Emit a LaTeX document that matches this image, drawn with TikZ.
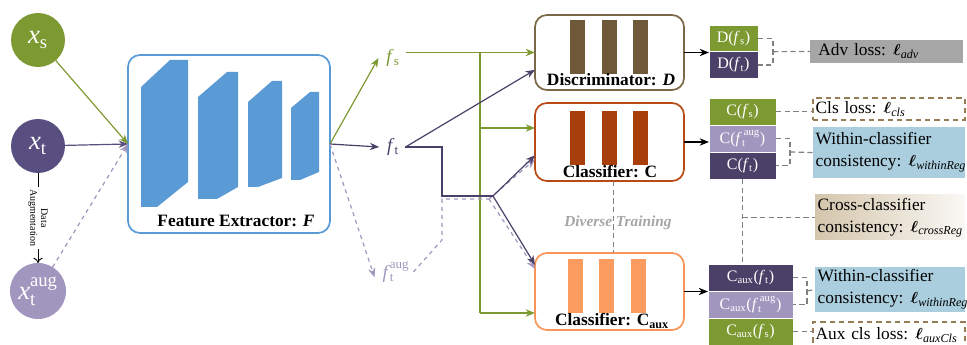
\documentclass[tikz,border=0pt]{standalone}
\usepackage{amsmath}
\usepackage{fontspec}
\setmainfont{Liberation Serif}
\usetikzlibrary{arrows.meta,calc}
\definecolor{cgreen}{RGB}{125,153,50}
\definecolor{cdpurp}{RGB}{88,78,128}
\definecolor{cdpurpb}{RGB}{74,64,104}
\definecolor{clpurp}{RGB}{160,150,190}
\definecolor{cblue}{RGB}{91,155,213}
\definecolor{cbrown}{RGB}{122,104,70}
\definecolor{cbarA}{RGB}{110,90,58}
\definecolor{crust}{RGB}{184,74,20}
\definecolor{cbarB}{RGB}{168,62,10}
\definecolor{corange}{RGB}{248,150,90}
\definecolor{cbarC}{RGB}{250,155,95}
\definecolor{cgraybox}{RGB}{166,166,166}
\definecolor{clblue}{RGB}{170,206,222}
\definecolor{ctan}{RGB}{212,198,172}
\definecolor{cdash}{RGB}{150,125,85}
\definecolor{cdline}{RGB}{128,128,128}
\definecolor{cdtext}{RGB}{165,165,165}
\tikzset{
  arr/.style={-{Stealth[length=7pt,width=5.5pt]}, line width=0.9pt},
  plain/.style={line width=0.9pt},
  circ/.style={circle, minimum size=40.5pt, text=white, font=\fontsize{20}{22}\selectfont},
  mbox/.style={draw, line width=1.3pt, rounded corners=9pt, minimum width=111.75pt},
  blab/.style={font=\fontsize{13}{15}\selectfont\bfseries},
  flab/.style={font=\fontsize{14}{16}\selectfont},
  obox/.style={anchor=north west, text=white, font=\fontsize{12}{14}\selectfont, draw=white, line width=0.4pt},
  dbox/.style={obox, minimum width=36.75pt, minimum height=20pt},
  cbox/.style={obox, minimum width=50.25pt, minimum height=20.25pt},
  abox/.style={obox, minimum width=63.75pt, minimum height=20.25pt},
  dline/.style={draw=cdline, line width=0.9pt, dash pattern=on 4pt off 2.5pt},
  loss/.style={anchor=north west, font=\fontsize{13}{16.5}\selectfont, align=left, inner xsep=2pt, inner ysep=0pt},
  dloss/.style={loss, draw=cdash, line width=1.4pt, dash pattern=on 4pt off 3pt, fill=white}
}
\newcommand{\lossl}[1]{\hspace{-1pt}$\boldsymbol{\ell}_{\textit{#1}}$}
\begin{document}
\begin{tikzpicture}[x=0.75pt,y=-0.75pt, every node/.style={inner sep=0pt, outer sep=0pt}]
\useasboundingbox (0,0) rectangle (967,345);

% inputs
\node[circ, fill=cgreen] (xs) at (38,40) {\textit{x}$_{\text{s}}$};
\node[circ, fill=cdpurp] (xt) at (38,146) {\textit{x}$_{\text{t}}$};
\node[circ, fill=clpurp, minimum size=42pt] (xa) at (38,291) {\textit{x}$_{\text{t}}^{\text{aug}}$};
\draw[-{To[length=4pt,width=7pt]}, line width=0.7pt] (xt) -- (xa)
  node[midway, fill=white, rotate=-90, font=\fontsize{7.5}{8}\selectfont, align=center, inner sep=1.5pt] (da) {Data\\Augmentation};

% feature extractor
\node[draw=cblue, line width=1.3pt, rounded corners=9pt, minimum width=151.5pt, minimum height=133.5pt] (F) at (229,144) {};
\fill[cblue] (141,87) -- (170,60) -- (188,60) -- (188,182) -- (157,207) -- (141,207) -- cycle;
\fill[cblue] (198,97) -- (227,72) -- (238,72) -- (238,187) -- (217,199) -- (198,199) -- cycle;
\fill[cblue] (248,102) -- (272,81) -- (282,81) -- (282,178) -- (258,187) -- (248,187) -- cycle;
\fill[cblue] (291,108) -- (310,92) -- (319,92) -- (319,172) -- (300,180) -- (291,180) -- cycle;
\node[blab] (Flab) at (236,221) {Feature Extractor: \textit{F}};

\draw[arr, cgreen] (xs) -- (F.west);
\draw[arr, cdpurp] (xt) -- (F.west);
\draw[arr, clpurp, dashed] (xa) -- (F.west);

% features
\node[flab, text=cgreen] (fs) at (393,58) {\textit{f}$_{\text{s}}$};
\node[flab, text=cdpurpb] (ft) at (393,147) {\textit{f}$_{\text{t}}$};
\node[flab, text=clpurp] (fa) at (396,272) {\textit{f}$_{\text{t}}^{\text{aug}}$};
\draw[arr, cgreen] (F.east) -- ([xshift=-6pt]fs.west);
\draw[arr, cdpurpb] (F.east) -- ([xshift=-6pt]ft.west);
\draw[arr, clpurp, dashed] (F.east) -- ([xshift=-6pt,yshift=-4pt]fa.west);

% heads
\node[mbox, draw=cbrown, minimum height=56.25pt] (D) at (609.5,52.5) {};
\node[mbox, draw=crust, minimum height=58.5pt] (C) at (609.5,142) {};
\node[mbox, draw=corange, minimum height=57.75pt] (Ca) at (609.5,291.5) {};
\foreach \x in {570,602,633} {\fill[cbarA] (\x,20) rectangle (\x+15,74);}
\foreach \x in {570,602,633} {\fill[cbarB] (\x,111) rectangle (\x+15,165);}
\foreach \x in {568,599,631} {\fill[cbarC] (\x,259) rectangle (\x+15,313);}
\node[blab] (Dlab) at (611,80) {Discriminator: \textit{D}};
\node[blab] (Clab) at (610,172) {Classifier: C};
\node[blab] (Calab) at (612,321) {Classifier: C$_{\text{aux}}$};

% green routing
\coordinate (gtop) at (480,52.5);
\coordinate (gmid) at (480,128);
\coordinate (gbot) at (480,313);
\draw[arr, cgreen] ([xshift=5pt]fs.east |- D.west) -- (D.west);
\draw[plain, cgreen] (gtop) -- (gbot);
\draw[arr, cgreen] (gmid) -- (C.west |- gmid);
\draw[arr, cgreen] (gbot) -- (Ca.west |- gbot);

% augmented target routing (dashed)
\coordinate (k1) at (442,240);
\coordinate (k2) at (442,199);
\coordinate (k3) at (489,199);
\draw[plain, clpurp, dashed] ([xshift=3pt]fa.east) -- (k1) -- (k2) -- (k3);
\draw[arr, clpurp, dashed] (k3) -- ([yshift=-13pt]C.west);
\draw[arr, clpurp, dashed] (k3) -- ([yshift=17pt]Ca.west);

% target routing
\coordinate (j2) at (442,196);
\coordinate (j3) at (493,196);
\draw[arr, cdpurpb] ([xshift=5pt]ft.east) -- ([yshift=-13pt]D.west);
\draw[plain, cdpurpb] ([xshift=5pt]ft.east) -| (j2) -- (j3);
\draw[arr, cdpurpb] (j3) -- ([yshift=-10pt]C.west);
\draw[arr, cdpurpb] (j3) -- ([yshift=20pt]Ca.west);

% diverse training
\draw[dline] ([xshift=3pt]C.south) -- ([xshift=3pt]Ca.north);
\node[font=\fontsize{11.5}{13}\selectfont\bfseries\itshape, text=cdtext] (dt) at (618,223) {Diverse Training};

% outputs
\node[dbox, fill=cgreen] (Dfs) at (709,25) {D(\textit{f}$_{\text{s}}$)};
\node[dbox, fill=cdpurpb] (Dft) at (Dfs.south west) {D(\textit{f}$_{\text{t}}$)};
\node[cbox, fill=cgreen] (Cfs) at (709,98) {C(\textit{f}$_{\text{s}}$)};
\node[cbox, fill=clpurp] (Cfa) at (Cfs.south west) {C(\textit{f}$_{\text{t}}^{\,\text{aug}}$)};
\node[cbox, fill=cdpurpb] (Cft) at (Cfa.south west) {C(\textit{f}$_{\text{t}}$)};
\node[abox, fill=cdpurpb] (Aft) at (708,264) {C$_{\text{aux}}$(\textit{f}$_{\text{t}}$)};
\node[abox, fill=clpurp] (Afa) at (Aft.south west) {C$_{\text{aux}}$(\textit{f}$_{\text{t}}^{\,\text{aug}}$)};
\node[abox, fill=cgreen] (Afs) at (Afa.south west) {C$_{\text{aux}}$(\textit{f}$_{\text{s}}$)};

\draw[arr, black] (D.east) -- (D.east -| Dfs.west);
\draw[arr, black] (C.east) -- (C.east -| Cfs.west);
\draw[arr, black] (Ca.east) -- (Ca.east -| Aft.west);

% losses
\node[loss, fill=cgraybox, text width=110.75pt, minimum height=17.25pt, inner xsep=2pt] (adv) at (810,40) {\mbox{~Adv loss: \lossl{adv}}};
\node[dloss, text width=110pt, minimum height=16.5pt] (cls) at (813,98) {\mbox{Cls loss: \lossl{cls}}};
\node[loss, fill=clblue, text width=110pt, minimum height=38.25pt] (win1) at (813,127) {\mbox{Within-classifier}\\\mbox{consistency: \lossl{withinReg}}};
\node[loss, left color=ctan, right color=ctan!12!white, text width=108.5pt, minimum height=33.75pt] (cross) at (815,195) {\mbox{Cross-classifier}\\\mbox{consistency: \lossl{crossReg}}};
\node[loss, fill=clblue, text width=108.5pt, minimum height=33.75pt] (win2) at (815,267) {\mbox{Within-classifier}\\\mbox{consistency: \lossl{withinReg}}};
\node[dloss, text width=110pt, minimum height=19.5pt] (aux) at (813,322) {\mbox{Aux cls loss: \lossl{auxCls}}};

% dashed links
\draw[dline] (Dfs.east) -- ++(15,0) |- (Dft.east);
\draw[dline] ($(Dfs.east)!0.5!(Dft.east)+(15,0)$) -- (adv.west);
\draw[dline] (Cfs.east) -- (Cfs.east -| cls.west);
\draw[dline] (Cfa.east) -- ++(14,0) |- (Cft.east);
\draw[dline] ($(Cfa.east)!0.5!(Cft.east)+(14,0)$) -- (win1.west);
\draw[dline] (Cft.south) -- (Cft.south |- Aft.north);
\draw[dline] (Cft.south |- cross.west) -- (cross.west);
\draw[dline] (Aft.east) -- ++(14,0) |- (Afa.east);
\draw[dline] ($(Aft.east)!0.5!(Afa.east)+(14,0)$) -- (win2.west);
\draw[dline] (Afs.east) -- (Afs.east -| aux.west);
\end{tikzpicture}
\end{document}
